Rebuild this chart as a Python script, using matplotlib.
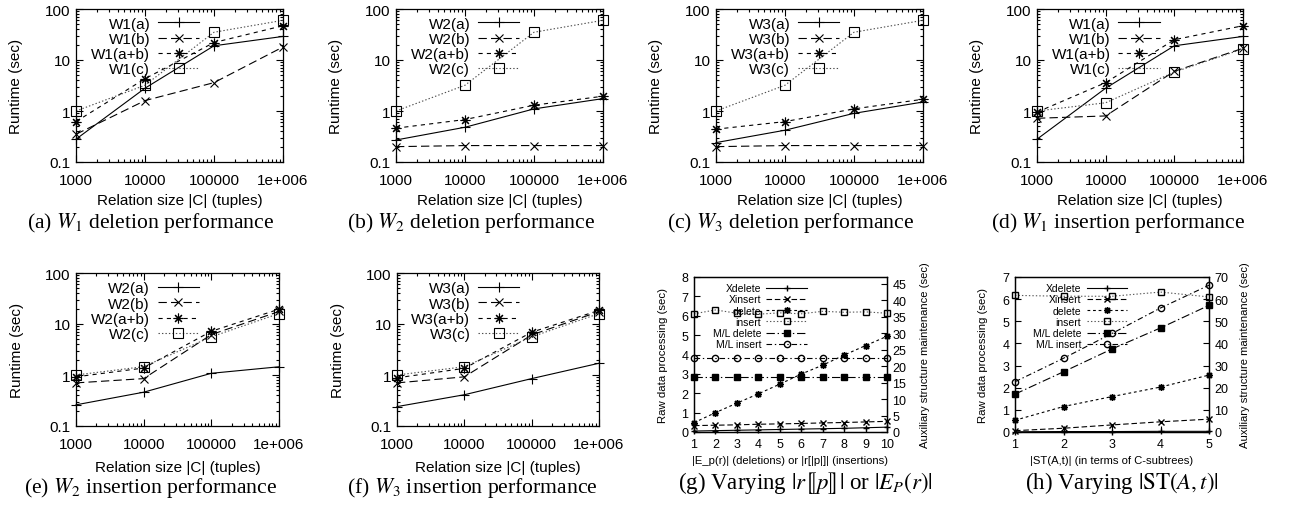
import numpy as np
import matplotlib.pyplot as plt
from matplotlib.ticker import LogLocator, NullFormatter, FixedLocator

plt.rcParams['font.family'] = 'Liberation Sans'
plt.rcParams['mathtext.fontset'] = 'stix'
plt.rcParams['lines.scale_dashes'] = False

# data
sizes = [1000, 10000, 100000, 1000000]
size_ticks = ['1000', '10000', '100000', '1e+006']
series_tags = ['(a)', '(b)', '(a+b)', '(c)']

w1_del = [[0.28, 2.8, 19, 29], [0.35, 1.6, 3.6, 18], [0.62, 4.3, 22, 47], [1.0, 3.2, 35, 60]]
w2_del = [[0.27, 0.48, 1.1, 1.75], [0.2, 0.21, 0.21, 0.21], [0.46, 0.68, 1.3, 1.95], [1.0, 3.2, 35, 60]]
w3_del = [[0.24, 0.42, 0.9, 1.5], [0.2, 0.21, 0.21, 0.21], [0.44, 0.62, 1.1, 1.7], [1.0, 3.2, 35, 60]]
w1_ins = [[0.28, 2.8, 19, 29], [0.72, 0.8, 6.0, 17], [0.95, 3.6, 25, 47], [1.0, 1.45, 5.8, 16.5]]
w2_ins = [[0.26, 0.46, 1.08, 1.45], [0.7, 0.85, 6.2, 17.6], [0.92, 1.37, 7.2, 19.5], [1.0, 1.46, 5.6, 16]]
w3_ins = [[0.24, 0.41, 0.85, 1.7], [0.7, 0.92, 6.1, 17.5], [0.88, 1.35, 6.9, 18.5], [1.0, 1.45, 5.6, 16]]

g_x = [1, 2, 3, 4, 5, 6, 7, 8, 9, 10]
g_xdelete = [0.05, 0.07, 0.09, 0.11, 0.13, 0.15, 0.17, 0.19, 0.22, 0.25]
g_xinsert = [0.33, 0.35, 0.37, 0.4, 0.42, 0.44, 0.47, 0.49, 0.52, 0.55]
g_delete = [0.48, 1.0, 1.49, 1.97, 2.47, 2.99, 3.45, 3.97, 4.46, 4.94]
g_insert = [6.1, 6.3, 6.13, 6.08, 6.15, 6.1, 6.23, 6.18, 6.2, 6.13]
g_ml_delete = [16.6, 16.6, 16.6, 16.6, 16.6, 16.6, 16.6, 16.6, 16.6, 16.6]
g_ml_insert = [22.3, 22.3, 22.3, 22.3, 22.3, 22.3, 22.3, 22.3, 22.3, 22.3]

h_x = [1, 2, 3, 4, 5]
h_xdelete = [0.01, 0.02, 0.02, 0.03, 0.03]
h_xinsert = [0.06, 0.17, 0.32, 0.46, 0.58]
h_delete = [0.53, 1.15, 1.6, 2.03, 2.57]
h_insert = [6.17, 6.13, 6.13, 6.32, 6.1]
h_ml_delete = [17.1, 27.2, 37.5, 47, 57.2]
h_ml_insert = [22.7, 33.3, 44.5, 56, 66.3]

W, H = 1296, 506
fig = plt.figure(figsize=(W / 100, H / 100), dpi=100)


def add_ax(l, r, t, b):
    return fig.add_axes([l / W, 1 - b / H, (r - l) / W, (b - t) / H])


styles = [
    dict(ls='-', marker='+', ms=7, color='k'),
    dict(dashes=(6, 3), marker='x', ms=6, color='k'),
    dict(dashes=(3, 3), marker=(8, 2, 0), ms=7, color='k'),
    dict(dashes=(1, 1.5), marker='s', ms=6.5, mfc='none', color='0.3', mec='k'),
]


def runtime_panel(box, wname, data, caption, cap_x, cap_y, xlab_y, leg_x, leg_y):
    ax = add_ax(*box)
    for tag, vals, st in zip(series_tags, data, styles):
        ax.plot(sizes, vals, lw=0.8, mew=0.8, clip_on=False, label=wname + tag, **st)
    ax.set_xscale('log')
    ax.set_yscale('log')
    ax.set_xlim(1000, 1000000)
    ax.set_ylim(0.1, 100)
    ax.set_xticks(sizes)
    ax.set_xticklabels(size_ticks)
    ax.set_yticks([0.1, 1, 10, 100])
    ax.set_yticklabels(['0.1', '1', '10', '100'])
    for axis in (ax.xaxis, ax.yaxis):
        axis.set_minor_locator(LogLocator(base=10, subs=np.arange(2, 10), numticks=20))
        axis.set_minor_formatter(NullFormatter())
    ax.tick_params(which='both', direction='in', top=True, right=True, labelsize=11, width=0.8)
    ax.tick_params(which='major', length=5)
    ax.tick_params(axis='x', which='major', pad=8)
    ax.tick_params(axis='y', which='major', pad=4)
    ax.tick_params(which='minor', length=2.5)
    ax.set_xlabel('Relation size |C| (tuples)', fontsize=11, va='center')
    ax.xaxis.set_label_coords(0.5, xlab_y)
    ax.set_ylabel('Runtime (sec)', fontsize=11, va='center')
    ax.yaxis.set_label_coords(-0.29, 0.5)
    for sp in ax.spines.values():
        sp.set_linewidth(0.9)
    ax.legend(loc='upper right', bbox_to_anchor=(leg_x, leg_y), frameon=False, markerfirst=False,
              fontsize=11, handlelength=2.7, handletextpad=0.5, labelspacing=0.08,
              borderpad=0, borderaxespad=0)
    fig.text(cap_x / W, 1 - cap_y / H, caption, ha='center', va='center',
             family='Liberation Serif', fontsize=15.6)
    return ax


runtime_panel((76, 283, 10, 163), 'W1', w1_del, r'(a) $W_1$ deletion performance', 151, 223, -0.25, 0.595, 0.95)
runtime_panel((396, 603, 10, 163), 'W2', w2_del, r'(b) $W_2$ deletion performance', 471, 223, -0.25, 0.595, 0.95)
runtime_panel((716, 923, 10, 163), 'W3', w3_del, r'(c) $W_3$ deletion performance', 791, 223, -0.25, 0.595, 0.95)
runtime_panel((1037, 1243, 10, 163), 'W1', w1_ins, r'(d) $W_1$ insertion performance', 1118, 223, -0.25, 0.595, 0.95)
runtime_panel((76, 279, 274, 427), 'W2', w2_ins, r'(e) $W_2$ insertion performance', 151, 488, -0.265, 0.605, 0.945)
runtime_panel((397, 599, 274, 427), 'W3', w3_ins, r'(f) $W_3$ insertion performance', 472, 488, -0.265, 0.605, 0.945)


def maint_panel(box, xs, xdel, xins, dele, ins, mld, mli, ymax, y2max, y2ticks, xlabel,
                caption, cap_x, leg_x, ylab_x, y2lab_x):
    ax = add_ax(*box)
    ax2 = ax.twinx()
    h = []
    h += ax.plot(xs, xdel, '-', marker='+', ms=5, color='k', lw=0.8, clip_on=False, label='Xdelete')
    h += ax.plot(xs, xins, dashes=(4, 2), marker='x', ms=4.5, color='k', lw=0.8, clip_on=False, label='Xinsert')
    h += ax.plot(xs, dele, dashes=(2, 2), marker=(8, 2, 0), ms=5, color='k', lw=0.8, clip_on=False, label='delete')
    h += ax.plot(xs, ins, dashes=(1, 1.5), marker='s', ms=4.5, mfc='none', mec='k', color='0.35', lw=0.8,
                 clip_on=False, label='insert')
    h += ax2.plot(xs, mld, dashes=(6, 2, 1, 2), marker='s', ms=5, color='k', lw=0.8, clip_on=False,
                  label='M/L delete')
    h += ax2.plot(xs, mli, dashes=(4, 2, 1, 2), marker='o', ms=4.5, mfc='none', mec='k', color='k', lw=0.8,
                  clip_on=False, label='M/L insert')
    ax.set_xlim(xs[0], xs[-1])
    ax.set_xticks(xs)
    ax.set_ylim(0, ymax)
    ax.set_yticks(range(0, ymax + 1))
    ax2.set_ylim(0, y2max)
    ax2.yaxis.set_major_locator(FixedLocator(y2ticks))
    ax.tick_params(direction='in', labelsize=9, length=4, width=0.8, pad=4)
    ax2.tick_params(direction='in', labelsize=9, length=4, width=0.8, pad=4)
    ax.set_xlabel(xlabel, fontsize=8.1, va='center')
    ax.xaxis.set_label_coords(0.5, -0.18)
    ax.set_ylabel('Raw data processing (sec)', fontsize=8.2, va='center')
    ax.yaxis.set_label_coords(ylab_x, 0.5)
    ax2.set_ylabel('Auxiliary structure maintenance (sec)', fontsize=8.1, va='center')
    ax2.yaxis.set_label_coords(y2lab_x, 0.5)
    for a in (ax, ax2):
        for sp in a.spines.values():
            sp.set_linewidth(0.9)
    ax2.legend(handles=h, loc='upper right', bbox_to_anchor=(leg_x, 0.96), frameon=False,
               markerfirst=False, fontsize=7.5, handlelength=3.9, handletextpad=0.5,
               labelspacing=0.12, borderpad=0, borderaxespad=0)
    fig.text(cap_x / W, 1 - 483 / H, caption, ha='center', va='center',
             family='Liberation Serif', fontsize=16.5)


maint_panel((694, 887, 278, 433), g_x, g_xdelete, g_xinsert, g_delete, g_insert, g_ml_delete, g_ml_insert,
            8, 47, list(range(0, 46, 5)), '|E_p(r)| (deletions) or |r[|p|]| (insertions)',
            r'(g) Varying $|r⟦p⟧|$ or $|E_P(r)|$', 805, 0.585, -0.16, 1.197)
maint_panel((1015, 1209, 278, 433), h_x, h_xdelete, h_xinsert, h_delete, h_insert, h_ml_delete, h_ml_insert,
            7, 70, list(range(0, 71, 10)), '|ST(A,t)| (in terms of C-subtrees)',
            r'(h) Varying $|\mathrm{ST}(A,t)|$', 1122, 0.578, -0.165, 1.186)

fig.savefig('out.png', dpi=100)
